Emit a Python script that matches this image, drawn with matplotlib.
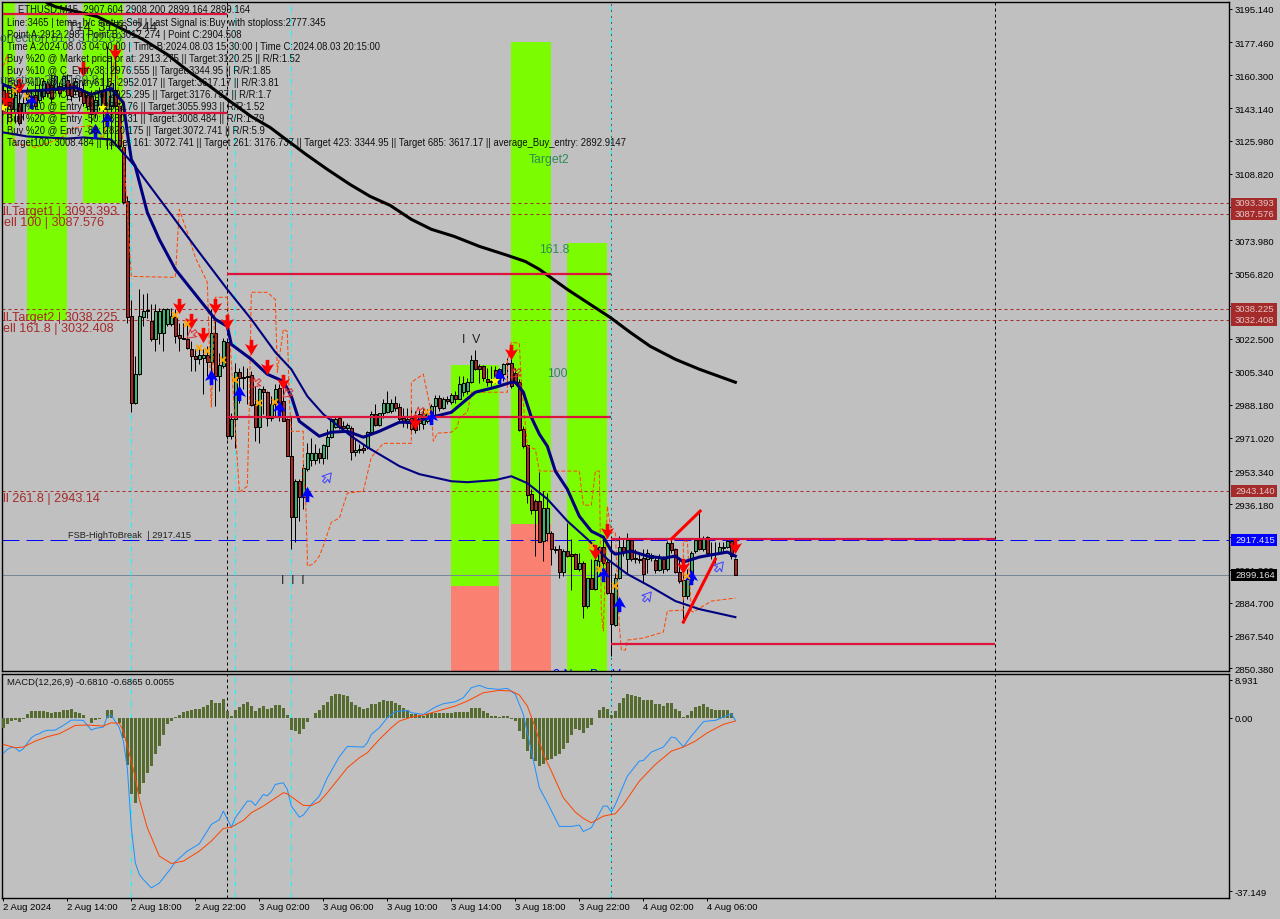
import matplotlib
matplotlib.use("Agg")
import matplotlib.pyplot as plt
from matplotlib.path import Path
from matplotlib.patches import Rectangle
from matplotlib.transforms import Affine2D, blended_transform_factory

plt.rcParams['font.family'] = ['Liberation Sans', 'DejaVu Sans']

# candles, one entry per M15 bar
opens = [3152.8, 3144.1, 3148.5, 3140.6, 3145.9, 3140.6, 3147.6, 3149.3, 3150.2, 3147.6,
         3149.3, 3156.3, 3155.4, 3152.8, 3154.6, 3153.7, 3158, 3156.3, 3152, 3153.7,
         3152, 3150.2, 3149.3, 3140.6, 3144.1, 3152, 3142.4, 3144.1, 3152.8, 3144.1,
         3123, 3094.4, 3034.5, 2989.2, 3004, 3034.1, 3037.4, 3031.9, 3022.3, 3025.8,
         3025.8, 3030.1, 3030.1, 3034.1, 3024.4, 3023.2, 3022.3, 3017.4, 3013.6, 3012.2,
         3012.4, 3013.9, 3010.5, 3025.8, 3003.2, 3008.4, 3020.9, 2971.8, 2980.9, 3005.2,
         3002.6, 3002.6, 3003.5, 2988.4, 2976.7, 2996.2, 2995, 2981.4, 2988.4, 2997.1,
         2990.1, 2980.5, 2961.4, 2929.7, 2948.4, 2940.2, 2954.8, 2959.3, 2959.3, 2963.1,
         2960.5, 2966.6, 2971.3, 2976.7, 2981.1, 2977.1, 2976.2, 2976.2, 2963.7, 2964.5,
         2965.8, 2966.1, 2973.9, 2983.5, 2977.4, 2983.7, 2984.4, 2984.9, 2989.2, 2987.2,
         2981.4, 2978.8, 2981.4, 2979.7, 2978.8, 2978, 2979.7, 2981.4, 2987.5, 2991.8,
         2986.6, 2991, 2989.6, 2993.1, 2991.3, 2994.8, 2995.3, 3000.2, 3011.3, 3008.4,
         3008.4, 3001.8, 3000.2, 3006.3, 3002.3, 3004, 3009.6, 3010.1, 3004.9, 3000.2,
         2975.3, 2967, 2941.4, 2937.9, 2937.9, 2917, 2921.4, 2921.4, 2913, 2912.7,
         2901, 2911.5, 2910, 2910, 2902.2, 2905.4, 2883.1, 2897.5, 2892.1, 2906.6,
         2914.1, 2906, 2890, 2873, 2897.4, 2914.1, 2907.5, 2917.4, 2908, 2907.8,
         2908, 2907.5, 2908.3, 2907.1, 2901.9, 2907.5, 2902.2, 2915.8, 2912.7, 2901,
         2888.3, 2888.3, 2896.7, 2911.5, 2917.4, 2912.7, 2919.1, 2910.9, 2910.6, 2910.9,
         2914.1, 2914.1, 2917, 2907.604]
closes = [3140.6, 3149.3, 3142.4, 3150.2, 3135.4, 3145.9, 3152.8, 3146.7, 3144.1, 3152.8,
          3157.2, 3151.1, 3148.5, 3159.8, 3151.1, 3159.8, 3150.2, 3149.3, 3157.2, 3149.3,
          3145.9, 3144.1, 3139.8, 3147.6, 3152, 3142.4, 3154.6, 3156.3, 3144.1, 3123.2,
          3094, 3033.8, 2989.2, 3004, 3034.5, 3037.1, 3036.9, 3022.3, 3037.1, 3037.1,
          3038, 3038, 3034.5, 3024, 3023, 3022.6, 3018, 3013.6, 3012.2, 3013.9,
          3014.1, 3010.5, 3025.8, 3003.2, 3008.7, 3021.4, 2971.8, 2980.9, 3005.2, 3002.3,
          3002.3, 3003.2, 2988, 2976.7, 2996.2, 2995, 2981.4, 2988.4, 2996.5, 2984.9,
          2979.7, 2961.4, 2929.7, 2948.4, 2940.2, 2955, 2963.1, 2963.1, 2963.1, 2960.5,
          2967, 2971.3, 2980.5, 2980.9, 2976.7, 2976.2, 2977.4, 2963.7, 2964.5, 2965.2,
          2964.5, 2973.9, 2983.5, 2977.4, 2983.7, 2988.9, 2989.2, 2988.9, 2986.3, 2980.5,
          2979.7, 2980.5, 2975.3, 2975, 2983.2, 2983.7, 2983.7, 2987.5, 2991.8, 2986.6,
          2991, 2990.1, 2993.1, 2991.3, 2999.2, 2999.7, 3000.2, 3011.3, 3007, 3007,
          3002.3, 3000, 3000.5, 3001.4, 3006.6, 3009.3, 3010.1, 2997.9, 3000, 2975,
          2966.6, 2941, 2933.2, 2933.2, 2916.7, 2934.4, 2934.4, 2913, 2912.2, 2901,
          2911.5, 2909.2, 2909.2, 2902.6, 2905.7, 2883.1, 2897.4, 2892.1, 2907.1, 2914.1,
          2905.4, 2890, 2873.5, 2897.4, 2914.1, 2911, 2917.4, 2907.5, 2907.5, 2907.1,
          2900, 2910.9, 2909.5, 2901.9, 2908.3, 2902.2, 2915.8, 2912.3, 2901, 2896.2,
          2896.7, 2897, 2910.9, 2917.4, 2912.7, 2917.9, 2910.9, 2910.6, 2910.9, 2914.1,
          2913.5, 2917, 2909.2, 2899.164]
highs = [3156.3, 3154.5, 3152.8, 3152.8, 3152, 3149, 3154, 3152, 3158, 3156,
         3159, 3158, 3160.7, 3161, 3157, 3161, 3160.7, 3158, 3159, 3156,
         3157.2, 3152, 3152.8, 3150, 3154, 3161.5, 3175.4, 3170.2, 3171.1, 3147.6,
         3126.7, 3097, 3043, 3013.6, 3048.4, 3045.8, 3046.7, 3040.6, 3040.6, 3038.8,
         3038.8, 3038.8, 3038.8, 3038, 3031, 3031, 3030.1, 3021.4, 3017.1, 3017.9,
         3017.1, 3018.8, 3038, 3031.9, 3015.3, 3023.2, 3022.3, 2984, 3009.8, 3007.5,
         3008.4, 3007.5, 3005.8, 2997.9, 2997.1, 2997.9, 2995.3, 2992.7, 2998.8, 2998.8,
         2999.7, 2981.4, 2982.3, 2949.2, 2949.2, 2957.1, 2968.4, 2971, 2967.5, 2965.7,
         2967.5, 2975.3, 2981.4, 2982.3, 2981.4, 2979.7, 2978.8, 2977.1, 2970.1, 2967.5,
         2967.5, 2974.4, 2984.9, 2988.4, 2984, 2991, 2995.3, 2991, 2992.7, 2989.2,
         2986.6, 2986.6, 2986.6, 2984.9, 2985.8, 2986.6, 2985.8, 2988.4, 2993.1, 2993.1,
         2992.4, 2992.7, 2994.5, 2995.3, 3003.2, 3003.2, 3002.3, 3014.1, 3016.6, 3009.3,
         3008.8, 3007.5, 3008.4, 3008.4, 3007.5, 3010.1, 3012.7, 3018, 3007.5, 3001.4,
         2977, 2967.5, 2944, 2938.8, 2953, 2943.1, 2942.3, 2922.3, 2914.4, 2914.8,
         2912.7, 2926.6, 2917.9, 2910.9, 2910.9, 2906.6, 2897.9, 2907.5, 2908.3, 2914.4,
         2917.9, 2907.5, 2919.6, 2900.5, 2919.6, 2917.9, 2921.4, 2918.8, 2912.7, 2910.9,
         2912.7, 2912.7, 2910.9, 2909.2, 2910, 2909.2, 2917, 2918.8, 2913.5, 2907.5,
         2904.8, 2902.2, 2911.8, 2917.9, 2932.7, 2919.6, 2919.6, 2916.2, 2916.2, 2916.2,
         2916.2, 2917.9, 2917.9, 2908.2]
lows = [3139.8, 3135, 3136.3, 3135.4, 3134.5, 3137, 3145, 3143, 3142.4, 3146,
        3148, 3149, 3145.9, 3151, 3149, 3152, 3147.6, 3147, 3150, 3147,
        3144.1, 3142, 3135.4, 3138, 3142, 3130.2, 3121.5, 3121.5, 3123.2, 3121.5,
        3093, 3031, 2984.4, 2988.4, 3003.5, 3029.3, 3033.6, 3021.4, 3016.2, 3019.7,
        3016.2, 3029.3, 3029.3, 3020.6, 3016.2, 3022.3, 3017.1, 3005.8, 3005.8, 3009.2,
        2993.6, 3003.2, 3003.2, 2987.5, 2995.3, 3007.5, 2970.1, 2970.1, 2965.7, 2989.2,
        2996.2, 2988.4, 2987.5, 2969.2, 2968, 2983.2, 2977.1, 2979.7, 2982.3, 2979.7,
        2979.7, 2961.4, 2912.7, 2916.2, 2927.5, 2933.6, 2953.6, 2956.2, 2957, 2957.9,
        2957, 2959.7, 2971, 2976.2, 2975.3, 2975.3, 2973.6, 2959.3, 2961.4, 2963.1,
        2963.1, 2964.9, 2973.6, 2977.1, 2977.1, 2981.4, 2984, 2984, 2984.9, 2979.7,
        2976.7, 2976.2, 2972.7, 2973.6, 2975, 2975.3, 2978.8, 2980.5, 2982.6, 2984.9,
        2986.1, 2988.4, 2988.4, 2989.2, 2991, 2992.7, 2993.6, 2999.7, 3006.3, 2999.7,
        3000.5, 2997.9, 2997.9, 2999.7, 3000.5, 3000.5, 3000.5, 2997.1, 2998.8, 2974.4,
        2965.7, 2937, 2931, 2909.2, 2916.2, 2906.6, 2917, 2904.3, 2910.9, 2897.9,
        2898.8, 2908.8, 2891.4, 2902.2, 2901.4, 2876.5, 2882.2, 2891.8, 2891.4, 2902.2,
        2904, 2889.2, 2857, 2872.7, 2897, 2909.2, 2900.5, 2906.6, 2905.7, 2905.7,
        2895.3, 2900.5, 2906.6, 2900.5, 2901.4, 2900.5, 2901.4, 2910.9, 2900.5, 2895.3,
        2875.3, 2886.6, 2896.2, 2910.9, 2912.3, 2911.8, 2910.1, 2907.5, 2905.7, 2910.1,
        2910.9, 2913.5, 2907.5, 2899.164]

# moving averages, vertices as (bar, price)
fast_ma_x = [0, 4, 9, 15, 18, 22, 27, 30, 31, 32, 33, 36, 39, 43, 49, 53, 56, 57, 62, 66, 70, 72, 74, 79, 82,
             86, 90, 94, 99, 102, 107, 112, 115, 118, 123, 127, 128, 130, 132, 134, 136, 138, 141, 144, 147,
             150, 152, 153, 157, 161, 165, 168, 170, 174, 178, 181, 183]
fast_ma_y = [3155.4, 3151.8, 3152.3, 3153.3, 3153.9, 3150.2, 3153.3, 3146, 3130.4, 3116.3, 3112.6, 3088.6,
             3074.5, 3058.9, 3043.2, 3032.8, 3029.1, 3019.7, 3011.9, 3004.1, 3000.4, 2992.6, 2979.5, 2971.7,
             2973.8, 2974.3, 2971.2, 2974.3, 2979, 2979, 2981.6, 2984.2, 2989.5, 2994.7, 2997.3, 2999.9,
             2999.9, 2994.7, 2981.6, 2972.8, 2966.5, 2953.5, 2944, 2929.9, 2922.1, 2919, 2911.7, 2910.1,
             2911.7, 2909.1, 2908, 2909.1, 2906, 2908.6, 2910.1, 2911.2, 2909.1]
slow_ma_x = [0, 6, 16, 20, 27, 33, 41, 49, 56, 62, 68, 72, 76, 80, 87, 91, 99, 104, 112, 116, 123, 127, 131,
             136, 141, 146, 151, 156, 162, 168, 174, 183]
slow_ma_y = [3130.4, 3128.3, 3127.2, 3127.8, 3126.7, 3112.6, 3090.2, 3067.7, 3048.4, 3032.8, 3015.6, 3006.7,
             2992.6, 2983.2, 2971.7, 2966, 2956.1, 2951.9, 2948.2, 2947.7, 2948.8, 2950.8, 2947.2, 2938.9,
             2927.4, 2918, 2907.5, 2899.7, 2892.9, 2885.6, 2881.4, 2877.2]
black_ma_x = [11, 13, 23.5, 29, 35, 41, 46.7, 51.7, 56.7, 62, 66.7, 70.7, 75.7, 81, 86.7, 91.7, 96.7, 102, 107,
              112.7, 119, 126, 130.5, 134, 141, 146.7, 151.7, 156.7, 161.7, 168, 174, 183]
black_ma_y = [3198, 3196.1, 3190.9, 3185.2, 3178.9, 3171.1, 3161.7, 3154.4, 3146.6, 3138.7, 3133, 3126.7, 3118.9,
              3111.1, 3103.2, 3097, 3092.3, 3085, 3079.8, 3076.1, 3070.9, 3066.2, 3063, 3058.9, 3048.4, 3040.6,
              3033.8, 3026, 3018.7, 3011.9, 3006.7, 2999.9]

# orange stepped band
band_x = [0, 1, 2, 3, 6, 8, 14, 18, 22, 25, 28, 30, 32, 43, 44, 46, 48, 51, 52, 53, 56, 59, 61, 61.5, 62, 66, 68,
          68.5, 70, 71, 71.5, 72, 75, 75, 75.5, 76, 76, 77.5, 79, 80, 82, 84, 86, 90, 92, 95, 102, 102, 105, 107,
          107.5, 108.5, 112, 113.5, 114, 116, 117, 126, 126, 127, 129, 129.5, 131, 133, 134, 144, 145, 147, 148,
          149, 149.5, 150, 151, 152, 153, 154, 154.5, 155.5, 156, 160, 165, 166, 170, 170, 171, 172, 172.5, 177, 183]
band_y = [3165, 3171, 3132, 3124, 3124, 3122.5, 3127, 3133, 3134, 3127, 3172, 3122, 3055.2, 3054.7, 3090.2, 3078.2,
          3065.1, 3052.1, 2987, 3044.3, 3044.3, 2942.5, 2945.6, 2987.4, 3046.9, 3046.9, 3043.2, 3005.1, 3027.6,
          3026.5, 2991, 2974.3, 2974.3, 2949.3, 2944, 2909.1, 2903.9, 2904.9, 2909.1, 2914.3, 2926.8, 2928.9, 2942,
          2943, 2960.8, 2968, 2968, 2999.9, 3004.1, 2984.2, 2969.1, 2973.3, 2973.8, 2976.4, 2981.6, 2984.2, 2994.7,
          2994.7, 3010.3, 3020.8, 3020.2, 3000, 2966.5, 2964.9, 2953.5, 2953.5, 2935.7, 2935.7, 2953.5, 2953.5,
          2879.9, 2870, 2935.2, 2921.6, 2921.6, 2872.6, 2860, 2860, 2865.2, 2866.3, 2869.4, 2880.4, 2880.9, 2916.9,
          2916.9, 2880.4, 2879.9, 2885.6, 2887.2]

# signal marks
sell_x = [1, 4, 20, 28, 44, 47, 50, 53, 56, 62, 66, 70, 103, 127, 148, 151, 170, 183]
sell_y = [3147.6, 3154.4, 3163.3, 3172.6, 3039.6, 3031.7, 3024.4, 3039.6, 3031.2, 3018.2, 3007.7, 2999.9, 2979,
          3015.6, 2911.2, 2922.1, 2903.9, 2914.3]
buy_x = [7, 23, 26, 52, 59, 69, 76, 107, 124, 150, 154, 172]
buy_y = [3146.6, 3130.9, 3137.2, 3002.5, 2994.2, 2986.3, 2941.4, 2981.6, 3003, 2899.7, 2884, 2898.1]
cross_x = [3, 6, 43, 46, 49, 51, 55, 58, 64, 68, 106, 147, 149, 153, 171]
cross_y = [3151.8, 3149.2, 3034.9, 3030.2, 3017.6, 3016, 3011.4, 3001, 2989, 2989.5, 2984.2, 2914.3, 2902.3,
           2893.4, 2898.7]
star_x = [0, 25, 123]
star_y = [3143.4, 3143.4, 3000.4]
open_up_x = [81, 161, 179]
open_up_y = [2950.3, 2888.2, 2903.9]
open_down_x = [47, 63, 71, 104, 128]
open_down_y = [3025, 2999.4, 2994.2, 2984.2, 3004.6]

# levels
sell_levels = [3093.393, 3087.576, 3038.225, 3032.408, 2943.14]
fsb_level = 2917.415
last_price = 2899.164
price_ticks = [3195.14, 3177.46, 3160.3, 3143.14, 3125.98, 3108.82, 3091.66, 3073.98, 3056.82, 3039.66, 3022.5,
               3005.34, 2988.18, 2971.02, 2953.34, 2936.18, 2919.02, 2901.86, 2884.7, 2867.54, 2850.38]
# these three labels sit wholly under a price tag
covered_ticks = [3091.66, 3039.66, 2919.02]

# crimson segments: start bar, end bar, price
segment_x0 = [0, 0, 56, 56, 152, 152]
segment_x1 = [56, 56, 152, 152, 248, 248]
segment_y = [3192.5, 3140.8, 3056.5, 2981.9, 2918, 2863.4]

# fibo boxes: left bar, right bar, bottom, top
green_x0 = [0, 6, 20, 112, 127, 141]
green_x1 = [3, 16, 30, 124, 137, 151]
green_lo = [3093.4, 3032.4, 3093.4, 2893.4, 2925.8, 2849]
green_hi = [3199, 3199, 3199, 3008.8, 3177.4, 3072.9]
salmon_x0 = [112, 127]
salmon_x1 = [124, 137]
salmon_lo = [2849, 2849]
salmon_hi = [2893.4, 2925.8]

# macd panel
macd_hist = [-2.17, -1.3, -0.72, -0.51, -0.87, -0.22, 0.87, 1.45, 1.45, 1.52, 1.52, 1.3, 1.09, 1.16, 1.3, 1.59,
             1.74, 1.88, 1.23, 1.01, 0.58, -0.07, -1.09, -0.43, -0.22, -0.07, 1.67, 1.67, -0.14, -1.16, -4.35,
             -10.29, -16.67, -18.55, -16.67, -14.13, -11.96, -10.51, -7.83, -6.09, -3.77, -1.45, -0.72, 0.14,
             0.51, 1.16, 1.45, 1.67, 1.81, 1.96, 2.32, 2.68, 3.84, 3.19, 3.19, 4.06, 1.45, 0.29, 1.59, 2.32,
             2.9, 3.41, 2.54, 1.45, 2.03, 2.46, 1.96, 2.1, 2.75, 2.75, 2.03, 0.58, -2.75, -2.9, -3.48, -2.54,
             -0.94, 0, 1.01, 1.67, 2.68, 3.41, 4.64, 5.14, 5.14, 4.93, 4.64, 3.48, 2.68, 2.32, 1.88, 2.17, 2.97,
             2.9, 3.33, 3.77, 3.62, 3.55, 3.26, 2.75, 2.03, 1.59, 0.87, 0.72, 0.51, 0.36, 0.72, 1.01, 1.01, 1.09,
             1.09, 1.09, 1.09, 1.23, 1.3, 1.23, 1.3, 2.1, 2.17, 2.1, 1.45, 0.94, 0.36, 0.29, 0.22, 0.36, 0.36,
             -0.29, -0.8, -2.9, -4.64, -7.25, -9.06, -9.42, -10.51, -10, -9.28, -8.99, -8.41, -7.97, -6.74, -5.51,
             -3.77, -2.54, -2.75, -3.26, -2.17, -1.59, -0.14, 1.67, 2.32, 1.88, 0.58, 1.45, 3.19, 4.35, 5.14, 4.86,
             4.64, 4.49, 3.91, 3.91, 3.77, 3.04, 3.04, 2.54, 3.19, 3.19, 1.96, 1.45, 0.14, 0.58, 1.45, 2.39, 2.54,
             2.97, 2.32, 1.96, 1.67, 1.67, 1.67, 1.67, 0.94, -0.14]
macd_main_x = [0, 1, 2, 3, 4, 5, 7, 8, 9, 10, 11, 13, 15, 17, 18, 20, 22, 23, 25, 26, 27, 28, 29, 30, 31, 32, 33, 34,
               35, 37, 39, 42, 43, 46, 49, 52, 54, 55, 57, 58, 61, 62, 63, 65, 66, 67, 68, 70, 71, 72, 74, 75, 77,
               79, 81, 84, 86, 90, 91, 92, 94, 96, 98, 101, 102, 105, 108, 110, 113, 115, 117, 119, 121, 124, 126,
               128, 130, 132, 134, 136, 139, 142, 144, 145, 147, 150, 151, 152, 153, 156, 159, 160, 162, 165, 167,
               168, 170, 172, 175, 176, 178, 182, 183]
macd_main_y = [-7.75, -6.88, -6.45, -6.52, -7.32, -6.74, -4.35, -3.77, -3.48, -2.97, -2.75, -2.68, -1.67, -0.51,
               -0.51, -0.58, -2.68, -2.32, -2.03, 0.22, 0.58, -0.87, -2.17, -5.07, -10.87, -23.91, -31.52, -34.06,
               -35.14, -36.96, -35.94, -32.61, -31.3, -28.99, -27.39, -23.19, -22.17, -20.29, -23.77, -21.74,
               -18.12, -18.12, -19.06, -16.67, -16.96, -16.09, -14.49, -14.13, -15.58, -19.2, -21.59, -21.16,
               -18.84, -17.03, -13.04, -8.48, -6.23, -6.38, -5.43, -3.62, -2.17, 0, 1.3, 1.59, 1.09, 0.72, 2.32,
               3.04, 3.48, 4.35, 6.52, 7.03, 6.38, 6.16, 6.38, 5.07, 0.72, -7.25, -15.22, -18.48, -23.62, -23.62,
               -23.33, -24.71, -23.91, -19.2, -19.2, -20.51, -18.84, -12.68, -9.42, -9.28, -7.46, -6.38, -4.2,
               -4.35, -6.3, -3.99, -0.87, -0.72, -0.58, 0.87, -0.58]
macd_signal_x = [0, 3, 5, 8, 11, 14, 18, 21, 25, 27, 29, 30, 32, 33, 34, 36, 39, 42, 45, 49, 52, 55, 57, 60, 62, 65,
                 70, 71, 75, 77, 79, 81, 86, 89, 91, 94, 97, 99, 102, 105, 108, 113, 116, 120, 124, 127, 129, 131,
                 133, 135, 137, 140, 143, 145, 147, 150, 153, 155, 159, 163, 167, 170, 173, 176, 180, 183]
macd_signal_y = [-5.8, -6.52, -6.38, -5.07, -4.13, -3.48, -1.67, -1.59, -1.81, -1.09, -1.23, -2.9, -9.42, -13.04,
                 -17.75, -23.91, -30.07, -31.67, -31.16, -28.99, -26.81, -24.06, -23.77, -22.32, -20.65, -19.2,
                 -16.3, -16.52, -19.06, -19.06, -18.26, -16.3, -10.87, -8.7, -7.61, -4.71, -2.17, -0.72, 0.14,
                 0.58, 1.3, 2.54, 3.62, 5.43, 5.94, 5.8, 4.93, 2.54, -2.17, -7.97, -11.59, -17.39, -20.51, -21.88,
                 -22.83, -21.38, -20.87, -18.84, -13.77, -10.14, -7.25, -6.38, -5.07, -3.26, -1.45, -0.72]
macd_tick_pos = [8.2, 0, -37.7]
macd_tick_text = ["8.931", "0.00", "-37.149"]

# time axis
time_ticks = list(range(0, 177, 16))
time_labels = ["2 Aug 2024", "2 Aug 14:00", "2 Aug 18:00", "2 Aug 22:00", "3 Aug 02:00", "3 Aug 06:00",
               "3 Aug 10:00", "3 Aug 14:00", "3 Aug 18:00", "3 Aug 22:00", "4 Aug 02:00", "4 Aug 06:00"]
cyan_bars = [32, 58, 72, 152]
black_bars = [56, 152, 248]

info_lines = [
    (18, 10, "ETHUSD,M15  2907.604 2908.200 2899.164 2899.164"),
    (7, 23, "Line:3465 | tema_h/c status:Sell | Last Signal is:Buy with stoploss:2777.345"),
    (7, 35, "Point A:2912.298 | Point B:3012.274 | Point C:2904.508"),
    (7, 47, "Time A:2024.08.03 04:00:00 | Time B:2024.08.03 15:30:00 | Time C:2024.08.03 20:15:00"),
    (7, 59, "Buy %20 @ Market price or at: 2913.275 || Target:3120.25 || R/R:1.52"),
    (7, 71, "Buy %10 @ C_Entry38: 2976.555 || Target:3344.95 || R/R:1.85"),
    (7, 83, "Buy %10 @ C_Entry61.8: 2952.017 || Target:3617.17 || R/R:3.81"),
    (7, 95, "Buy %10 @ C_Entry88: 2925.295 || Target:3176.737 || R/R:1.7"),
    (7, 107, "Buy %10 @ Entry -23: 2883.76 || Target:3055.993 || R/R:1.52"),
    (7, 119, "Buy %20 @ Entry -50: 2860.31 || Target:3008.484 || R/R:1.79"),
    (7, 131, "Buy %20 @ Entry -88: 2820.175 || Target:3072.741 || R/R:5.9"),
    (7, 143, "Target100: 3008.484 || Target 161: 3072.741 || Target 261: 3176.737 || Target 423: 3344.95 "
             "|| Target 685: 3617.17 || average_Buy_entry: 2892.9147"),
]
level_labels = [
    (3, 212, "ll Target1 | 3093.393"),
    (4, 223, "ell 100 | 3087.576"),
    (3, 318, "ll Target2 | 3038.225"),
    (3, 329, "ell 161.8 | 3032.408"),
    (3, 499, "ll 261.8 | 2943.14"),
]

WIDTH, HEIGHT = 1280, 920
GRAY = "#C0C0C0"
PX = 0.72  # one pixel in points at dpi 100

DOWN = [(-0.24, 1), (0.24, 1), (0.24, 0.2), (0.85, 0.45), (0, -1), (-0.85, 0.45), (-0.24, 0.2), (-0.24, 1)]
UP = [(x, -y) for x, y in DOWN]
down_arrow = Path(DOWN, closed=True)
up_arrow = Path(UP, closed=True)
open_up_arrow = up_arrow.transformed(Affine2D().rotate_deg(-40))
open_down_arrow = up_arrow.transformed(Affine2D().rotate_deg(130))


def px_axes(fig, left, top, right, bottom):
    return fig.add_axes([left / WIDTH, 1 - bottom / HEIGHT, (right - left) / WIDTH, (bottom - top) / HEIGHT])


def fig_text(fig, x, y, text, **kwargs):
    return fig.text(x / WIDTH, 1 - y / HEIGHT, text, va="center", ha=kwargs.pop("ha", "left"), **kwargs)


def price_tag(ax, value, text, face, color):
    # tag sits in the right margin, x in figure pixels, y on the price scale
    trans = blended_transform_factory(fig.transFigure, ax.transData)
    ax.add_patch(Rectangle((1231 / WIDTH, value - 3), 46 / WIDTH, 6, transform=trans, facecolor=face,
                           edgecolor="none", clip_on=False, zorder=10))
    ax.text(1235 / WIDTH, value + 0.4, text, transform=trans, color=color, fontsize=6.8, va="center", ha="left",
            clip_on=False, zorder=11)


def draw_candles(ax):
    bars = range(len(opens))
    ax.vlines(bars, lows, highs, color="black", linewidth=PX, zorder=4)
    for i in bars:
        bottom = min(opens[i], closes[i])
        height = max(abs(opens[i] - closes[i]), 0.1)
        face = "#3CB371" if closes[i] >= opens[i] else "#B22222"
        ax.bar(i, height, bottom=bottom, width=0.7, color=face, edgecolor="black", linewidth=PX, zorder=5)


def style_axes(ax):
    ax.set_facecolor(GRAY)
    for spine in ax.spines.values():
        spine.set_color("black")
        spine.set_linewidth(1.0)
    ax.yaxis.tick_right()
    ax.tick_params(axis="y", length=2.2, width=PX, pad=2, labelsize=6.8, colors="black")
    ax.set_xlim(-0.325, 306.4)


def draw_verticals(ax):
    for bar in cyan_bars:
        ax.axvline(bar, color="#00FFFF", linewidth=PX, linestyle=(0, (5, 3, 1, 3)), zorder=2)
    for bar in black_bars:
        ax.axvline(bar, color="black", linewidth=PX, linestyle=(0, (3, 3)) if bar != 152 else (0, (1, 5)), zorder=3)


fig = plt.figure(figsize=(WIDTH / 100, HEIGHT / 100), dpi=100, facecolor=GRAY)

ax = px_axes(fig, 2, 3, 1229, 672)
style_axes(ax)
ax.set_ylim(2849.07, 3198.54)
ax.set_xticks([])
ax.set_yticks(price_ticks)
ax.set_yticklabels(["" if v in covered_ticks else f"{v:.3f}" for v in price_ticks])

for x0, x1, lo, hi in zip(green_x0, green_x1, green_lo, green_hi):
    ax.add_patch(Rectangle((x0, lo), x1 - x0, hi - lo, facecolor="#7CFC00", edgecolor="none", zorder=1))
for x0, x1, lo, hi in zip(salmon_x0, salmon_x1, salmon_lo, salmon_hi):
    ax.add_patch(Rectangle((x0, lo), x1 - x0, hi - lo, facecolor="#FA8072", edgecolor="none", zorder=1))

for level in sell_levels:
    ax.axhline(level, color="#A52A2A", linewidth=PX, linestyle=(0, (3, 3)), zorder=2)
ax.axhline(fsb_level, color="#0000FF", linewidth=PX, linestyle=(0, (17, 7)), zorder=2)
ax.axhline(last_price, color="#778899", linewidth=PX, zorder=2)

draw_verticals(ax)
draw_candles(ax)

ax.plot(band_x, band_y, color="#FF4500", linewidth=PX, linestyle=(0, (4, 2)), zorder=6)
ax.plot(black_ma_x, black_ma_y, color="black", linewidth=2.2, zorder=7)
ax.plot(slow_ma_x, slow_ma_y, color="#000080", linewidth=1.5, zorder=7)
ax.plot(fast_ma_x, fast_ma_y, color="#000080", linewidth=2.2, zorder=7)

for x0, x1, price in zip(segment_x0, segment_x1, segment_y):
    ax.plot([x0, x1], [price, price], color="#DC143C", linewidth=1.6, solid_capstyle="butt", zorder=8)

ax.plot([167, 174.2], [2918, 2932.6], color="#FF0000", linewidth=2.2, zorder=8)
ax.plot([170, 178], [2874.6, 2907.5], color="#FF0000", linewidth=2.2, zorder=8)

ax.plot(sell_x, sell_y, linestyle="none", marker=down_arrow, markersize=11, color="#FF0000", markeredgewidth=0, zorder=9)
ax.plot(buy_x, buy_y, linestyle="none", marker=up_arrow, markersize=11, color="#0000FF", markeredgewidth=0, zorder=9)
ax.plot(cross_x, cross_y, linestyle="none", marker="x", markersize=4.5, color="#FFA500", markeredgewidth=1.3, zorder=9)
ax.plot(star_x, star_y, linestyle="none", marker="*", markersize=7, color="#FFFF00", markeredgewidth=0, zorder=9)
ax.plot(open_up_x, open_up_y, linestyle="none", marker=open_up_arrow, markersize=8, markerfacecolor="none",
        markeredgecolor="#4040FF", markeredgewidth=PX, zorder=9)
ax.plot(open_down_x, open_down_y, linestyle="none", marker=open_down_arrow, markersize=8, markerfacecolor="none",
        markeredgecolor="#E03030", markeredgewidth=PX, zorder=9)

for level in sell_levels:
    price_tag(ax, level, f"{level:.3f}", "#A52A2A", "#E0C8C8")
price_tag(ax, fsb_level, f"{fsb_level:.3f}", "#0000FF", "#E0E0FF")
price_tag(ax, last_price, f"{last_price:.3f}", "black", "#E0E0E0")

# only the top of this row shows above the panel edge
ax.text(137.5, 2850.6, "0 N     B    V          .      .     .     .", color="#0000FF", fontsize=9, va="top", ha="left",
        clip_on=True, zorder=6)

# macd panel
mx = px_axes(fig, 2, 675, 1229, 899)
style_axes(mx)
mx.set_ylim(-39.17, 9.5)
mx.set_yticks(macd_tick_pos)
mx.set_yticklabels(macd_tick_text)
mx.set_xticks(time_ticks)
mx.set_xticklabels(time_labels, ha="left", fontsize=6.8)
mx.tick_params(axis="x", length=2.2, width=PX, pad=1, colors="black")

draw_verticals(mx)

mx.bar(range(len(macd_hist)), macd_hist, width=0.78, color="#556B2F", zorder=4)
mx.plot(macd_main_x, macd_main_y, color="#1E90FF", linewidth=PX, zorder=5)
mx.plot(macd_signal_x, macd_signal_y, color="#FF4500", linewidth=PX, zorder=5)

# text overlay
for x, y, line in info_lines:
    fig_text(fig, x, y, line, color="#101010", fontsize=6.85, zorder=20)
for x, y, line in level_labels:
    fig_text(fig, x, y, line, color="#A52A2A", fontsize=9.1, zorder=20)
fig_text(fig, 0, 39, "orrection 61.8 3182.69", color="#406060", fontsize=8.8, zorder=19)
fig_text(fig, 0, 81, "rrection 38 3139.8", color="#406060", fontsize=8.8, zorder=19)
fig_text(fig, 68, 28, "T14  3176  244", color="#202020", fontsize=9.5, zorder=19)
fig_text(fig, 68, 535, "FSB-HighToBreak  | 2917.415", color="#202020", fontsize=6.7, zorder=20)
fig_text(fig, 529, 160, "Target2", color="#2E8B57", fontsize=8.8, zorder=20)
fig_text(fig, 539, 250, "161.8", color="#2E8B57", fontsize=8.8, zorder=20)
fig_text(fig, 547, 374, "100", color="#2E8B57", fontsize=8.8, zorder=20)
fig_text(fig, 462, 340, "I  V", color="#202020", fontsize=8.8, zorder=20)
fig_text(fig, 281, 581, "I  I  I", color="#202020", fontsize=8.8, zorder=20)
fig_text(fig, 7, 683, "MACD(12,26,9) -0.6810 -0.6865 0.0055", color="#101010", fontsize=6.8, zorder=20)

fig.savefig("out.png", dpi=100, facecolor=fig.get_facecolor())
